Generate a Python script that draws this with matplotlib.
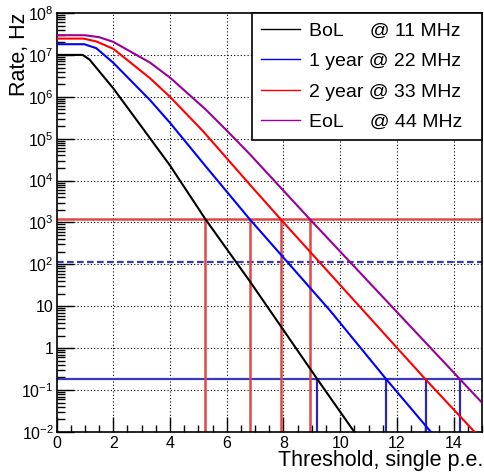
import numpy as np
import matplotlib.pyplot as plt
from matplotlib.ticker import FixedLocator, FixedFormatter, MultipleLocator

plt.rcParams['font.family'] = ['Liberation Sans', 'DejaVu Sans']
plt.rcParams['mathtext.fontset'] = 'custom'
plt.rcParams['mathtext.rm'] = 'Liberation Sans'
plt.rcParams['mathtext.it'] = 'Liberation Sans:italic'

# Rate vs threshold curves
bol_x = [0, 0.92, 1.16, 2.0, 3.15, 4.0, 5.25, 6.81, 9.2, 10.5, 11.0]
bol_r = [1.0e7, 1.0e7, 7.8e6, 1.6e6, 1.4e5, 2.3e4, 1.2e3, 40, 0.18, 0.01, 0.003]

y1_x = [0, 0.98, 1.4, 2.0, 3.3, 4.0, 5.27, 6.81, 9.63, 11.63, 13.2, 13.6]
y1_r = [1.8e7, 1.8e7, 1.45e7, 6.5e6, 8.3e5, 2.4e5, 2.15e4, 1.2e3, 8.1, 0.18, 0.01, 0.005]

y2_x = [0, 0.95, 1.4, 2.0, 3.29, 4.0, 5.17, 6.81, 7.9, 13.01, 14.74, 15.0]
y2_r = [2.45e7, 2.45e7, 2.1e7, 1.4e7, 2.8e6, 1.0e6, 1.5e5, 8.1e3, 1.2e3, 0.18, 0.01, 0.0065]

eol_x = [0, 1.0, 1.5, 2.0, 3.29, 4.02, 5.27, 6.03, 6.81, 8.93, 14.23, 15.0]
eol_r = [2.95e7, 2.95e7, 2.65e7, 2.05e7, 6.6e6, 2.8e6, 4.9e5, 1.5e5, 4.3e4, 1.2e3, 0.18, 0.05]

labels = ['BoL     @ 11 MHz  ', '1 year @ 22 MHz  ', '2 year @ 33 MHz  ', 'EoL     @ 44 MHz  ']
colors = ['black', '#0000ff', '#ff0000', '#990099']

# threshold levels and crossings
red_level = 1.2e3
red_cross = [5.25, 6.81, 7.9, 8.93]
blue_dash_level = 117
blue_level = 0.18
blue_cross = [9.2, 11.63, 13.01, 14.23]

fig = plt.figure(figsize=(4.85, 4.73), dpi=100)
ax = fig.add_axes([0.1165, 0.0867, 0.8773, 0.8858])
ax.set_yscale('log')
ax.set_xlim(0, 15)
ax.set_ylim(1e-2, 1e8)

# grid
for gx in range(2, 15, 2):
    ax.axvline(gx, color='black', lw=0.8, ls=(0, (1, 2)), zorder=1)
for e in range(-1, 8):
    ax.axhline(10.0 ** e, color='black', lw=0.8, ls=(0, (1, 2)), zorder=1)

# threshold lines
ax.axhline(red_level, color='#e04848', lw=1.8, zorder=2)
ax.axhline(blue_dash_level, color='#3a3ab8', lw=1.6, ls=(0, (3, 1.5)), zorder=2)
ax.axhline(blue_level, color='#3a3ab8', lw=1.6, zorder=2)
ax.vlines(red_cross, 1e-2, red_level, color='#e04848', lw=1.8, zorder=2)
ax.vlines(blue_cross, 1e-2, blue_level, color='#2a2aa8', lw=1.6, zorder=2)

lines = []
for xs, rs, c, lab in zip([bol_x, y1_x, y2_x, eol_x], [bol_r, y1_r, y2_r, eol_r], colors, labels):
    l, = ax.plot(xs, rs, color=c, lw=1.5, label=lab, zorder=3)
    lines.append(l)

leg = ax.legend(handles=lines, loc='upper right', bbox_to_anchor=(1.0, 1.0),
                fancybox=False, framealpha=1, edgecolor='black', fontsize=14,
                borderaxespad=0, handlelength=2.05, handletextpad=0.45,
                labelspacing=0.67, borderpad=0.45)
leg.get_frame().set_linewidth(1.2)
for lh in leg.get_lines():
    lh.set_linewidth(1.0)

# ticks
ax.xaxis.set_major_locator(MultipleLocator(2))
ax.xaxis.set_minor_locator(MultipleLocator(0.5))
ax.tick_params(axis='x', which='major', direction='in', length=11, width=1, labelsize=11.5, pad=3)
ax.tick_params(axis='x', which='minor', direction='in', length=5, width=1)
ax.tick_params(axis='y', which='major', direction='in', length=12, width=1, labelsize=11.5, pad=2)
ax.tick_params(axis='y', which='minor', direction='in', length=6, width=1)
ax.tick_params(top=False, right=False, which='both')

ytick_vals = [10.0 ** e for e in range(-2, 9)]
ytick_labs = [r'$10^{-2}$', r'$10^{-1}$', '1', '10', r'$10^{2}$', r'$10^{3}$', r'$10^{4}$',
              r'$10^{5}$', r'$10^{6}$', r'$10^{7}$', r'$10^{8}$']
ax.yaxis.set_major_locator(FixedLocator(ytick_vals))
ax.yaxis.set_major_formatter(FixedFormatter(ytick_labs))
minor = [m * 10.0 ** e for e in range(-2, 8) for m in range(2, 10)]
ax.yaxis.set_minor_locator(FixedLocator(minor))

for sp in ax.spines.values():
    sp.set_linewidth(1.2)

fig.text(0.9959, 0.015, 'Threshold, single p.e.', ha='right', va='baseline', fontsize=15.5)
fig.text(0.018, 0.9725, 'Rate, Hz', ha='left', va='top', rotation=90, fontsize=15.5)

fig.savefig('out.png', dpi=100)
